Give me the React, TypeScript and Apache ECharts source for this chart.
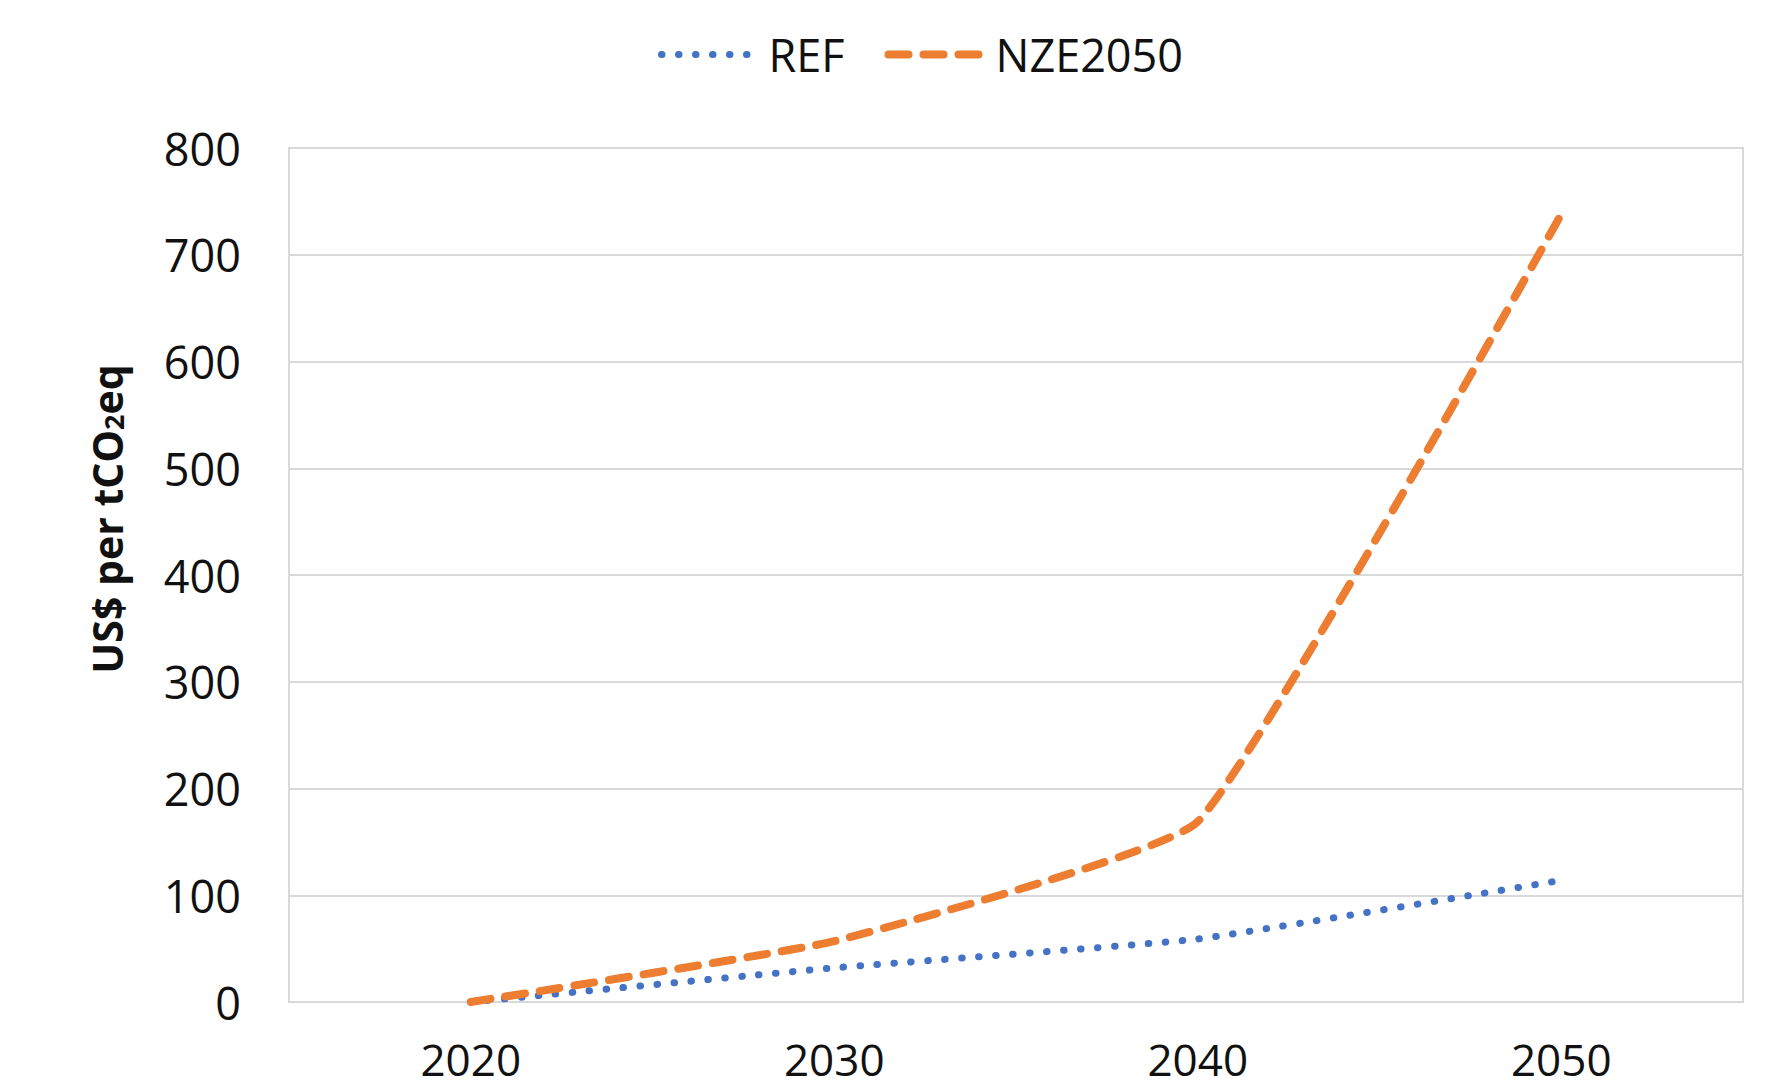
import React, { useEffect, useRef } from "react";
import * as echarts from "echarts";

const years = ["2020", "2030", "2040", "2050"];
const refValues = [0, 32, 59, 114];
const nzeValues = [0, 57, 169, 738];
const seriesNames = ["REF", "NZE2050"];

const FONT = "'Open Sans', 'Noto Sans', sans-serif";
const BLUE = "#4472C4";
const ORANGE = "#ED7D31";
const REF_DASH = [0.5, 16.5];
const NZE_DASH = [20, 15];

export default function App() {
  const ref = useRef<HTMLDivElement>(null);
  useEffect(() => {
    const chart = echarts.init(ref.current!, null, { renderer: "svg" });
    chart.setOption({
      animation: false,
      backgroundColor: "#ffffff",
      textStyle: { fontFamily: FONT },
      legend: {
        top: 27,
        left: 653,
        itemWidth: 92,
        itemHeight: 14,
        itemGap: 40,
        textStyle: { fontSize: 45, color: "#111", fontFamily: FONT, padding: [0, 0, 0, 10] },
        data: [
          {
            name: seriesNames[0],
            itemStyle: { color: "rgba(0,0,0,0)", borderWidth: 0, opacity: 0 },
            lineStyle: { color: BLUE, width: 7, type: REF_DASH, cap: "round" },
          },
          {
            name: seriesNames[1],
            itemStyle: { color: "rgba(0,0,0,0)", borderWidth: 0, opacity: 0 },
            lineStyle: { color: ORANGE, width: 8, type: NZE_DASH, cap: "round" },
          },
        ],
      },
      grid: {
        left: 289,
        top: 148,
        right: 35,
        bottom: 86,
        show: true,
        borderColor: "#d9d9d9",
        borderWidth: 2,
      },
      xAxis: {
        type: "category",
        data: years,
        boundaryGap: true,
        axisLine: { show: false },
        axisTick: { show: false },
        axisLabel: { fontSize: 44, lineHeight: 44, color: "#111", margin: 35, fontFamily: FONT },
      },
      yAxis: {
        type: "value",
        min: 0,
        max: 800,
        interval: 100,
        axisLine: { show: false },
        axisTick: { show: false },
        axisLabel: { fontSize: 45, color: "#111", margin: 48, fontFamily: FONT },
        splitLine: { lineStyle: { color: "#d9d9d9", width: 2 } },
        name: "{a|US$ per tCO}{b|2}{a|eq}",
        nameLocation: "middle",
        nameRotate: 90,
        nameGap: 162,
        nameTextStyle: {
          padding: [0, 0, 0, 112],
          rich: {
            a: { fontSize: 41, fontWeight: "bold", color: "#111", fontFamily: FONT, lineHeight: 50, verticalAlign: "bottom" },
            b: { fontSize: 27, fontWeight: "bold", color: "#111", fontFamily: FONT, lineHeight: 34, verticalAlign: "bottom" },
          },
        },
      },
      series: [
        {
          name: seriesNames[0],
          type: "line",
          data: refValues,
          symbol: "none",
          smooth: 0.12,
          color: BLUE,
          lineStyle: { color: BLUE, width: 7, type: REF_DASH, cap: "round" },
        },
        {
          name: seriesNames[1],
          type: "line",
          data: nzeValues,
          symbol: "none",
          smooth: 0.12,
          color: ORANGE,
          lineStyle: { color: ORANGE, width: 8, type: NZE_DASH, cap: "round" },
        },
      ],
    });
    return () => chart.dispose();
  }, []);
  return (
    <div
      ref={ref}
      style={{ position: "absolute", left: 0, top: 0, width: 1778, height: 1088 }}
    />
  );
}
